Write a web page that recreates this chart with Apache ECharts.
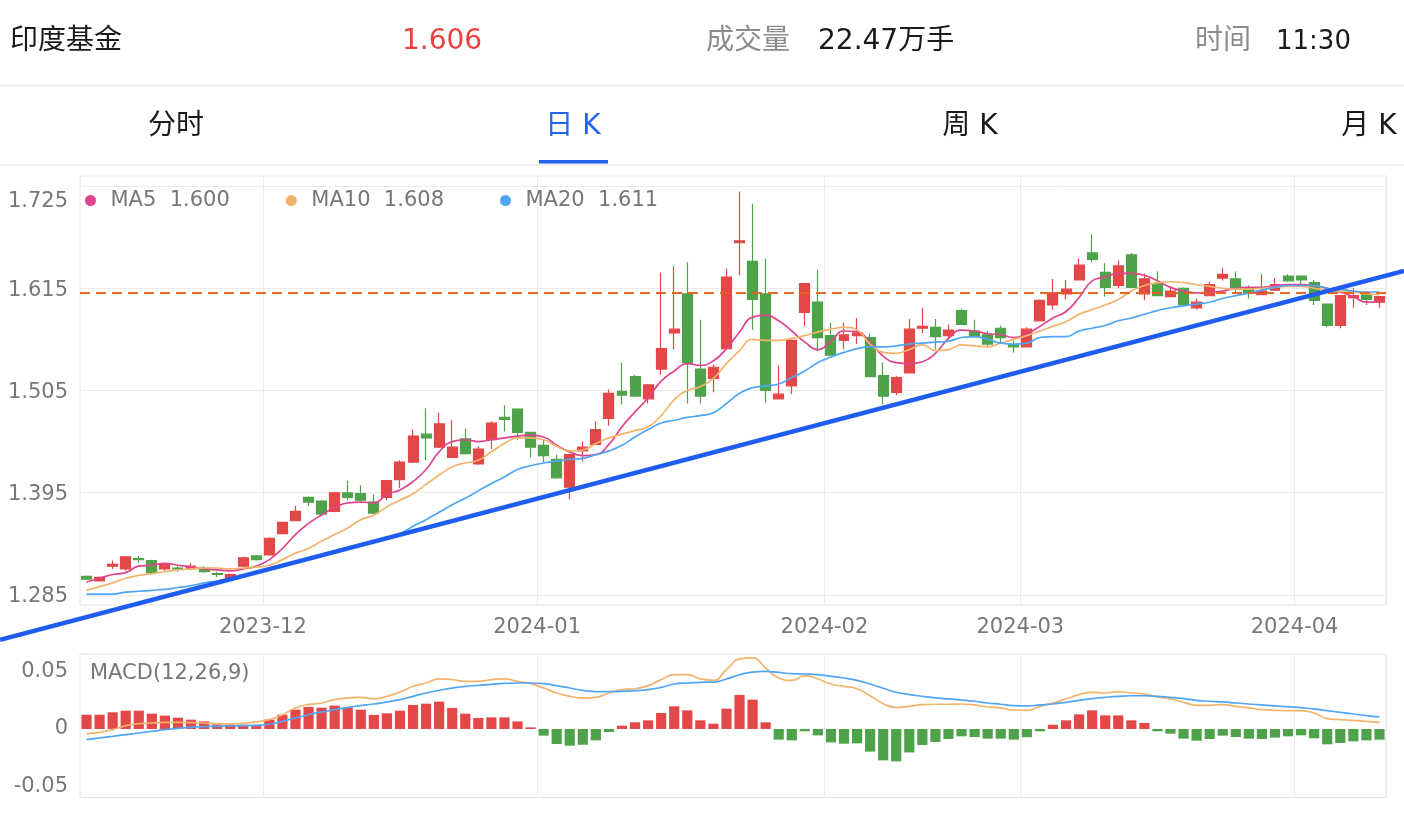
<!DOCTYPE html>
<html><head><meta charset="utf-8">
<script src="https://cdn.jsdelivr.net/npm/echarts@6/dist/echarts.min.js"></script>
<style>html,body{margin:0;padding:0;background:#fff}#c{width:1404px;height:818px}</style>
</head><body><div id="c"></div>
<script>
const dates = [
'2023-11-13','2023-11-14','2023-11-15','2023-11-16','2023-11-17','2023-11-20','2023-11-21','2023-11-22','2023-11-23','2023-11-24','2023-11-27','2023-11-28','2023-11-29','2023-11-30',
'2023-12-01','2023-12-04','2023-12-05','2023-12-06','2023-12-07','2023-12-08','2023-12-11','2023-12-12','2023-12-13','2023-12-14','2023-12-15','2023-12-18','2023-12-19','2023-12-20','2023-12-21','2023-12-22','2023-12-25','2023-12-26','2023-12-27','2023-12-28','2023-12-29',
'2024-01-02','2024-01-03','2024-01-04','2024-01-05','2024-01-08','2024-01-09','2024-01-10','2024-01-11','2024-01-12','2024-01-15','2024-01-16','2024-01-17','2024-01-18','2024-01-19','2024-01-22','2024-01-23','2024-01-24','2024-01-25','2024-01-26','2024-01-29','2024-01-30','2024-01-31',
'2024-02-01','2024-02-02','2024-02-05','2024-02-06','2024-02-07','2024-02-08','2024-02-19','2024-02-20','2024-02-21','2024-02-22','2024-02-23','2024-02-26','2024-02-27','2024-02-28','2024-02-29',
'2024-03-01','2024-03-04','2024-03-05','2024-03-06','2024-03-07','2024-03-08','2024-03-11','2024-03-12','2024-03-13','2024-03-14','2024-03-15','2024-03-18','2024-03-19','2024-03-20','2024-03-21','2024-03-22','2024-03-25','2024-03-26','2024-03-27','2024-03-28','2024-03-29',
'2024-04-01','2024-04-02','2024-04-03','2024-04-08','2024-04-09','2024-04-10','2024-04-11'];

const opens = [1.305,1.300,1.316,1.313,1.324,1.322,1.313,1.314,1.313,1.314,1.308,1.304,1.316,1.327,1.328,1.351,1.365,1.390,1.386,1.375,
1.395,1.394,1.385,1.390,1.409,1.428,1.458,1.444,1.433,1.453,1.426,1.452,1.476,1.485,1.460,1.446,1.431,1.401,1.440,1.447,
1.475,1.504,1.520,1.496,1.528,1.567,1.609,1.528,1.518,1.550,1.664,1.644,1.609,1.496,1.510,1.589,1.600,1.564,1.559,1.564,
1.562,1.521,1.503,1.524,1.572,1.573,1.564,1.591,1.569,1.565,1.572,1.554,1.552,1.580,1.597,1.609,1.624,1.653,1.632,1.618,
1.651,1.609,1.620,1.606,1.615,1.594,1.607,1.626,1.625,1.615,1.608,1.613,1.628,1.628,1.621,1.598,1.575,1.605,1.608,1.600];
const closes = [1.302,1.304,1.318,1.326,1.323,1.309,1.318,1.313,1.316,1.310,1.307,1.307,1.325,1.323,1.346,1.363,1.375,1.385,1.372,1.395,
1.390,1.387,1.373,1.408,1.428,1.456,1.454,1.469,1.444,1.437,1.442,1.470,1.474,1.460,1.444,1.435,1.411,1.436,1.444,1.463,
1.502,1.500,1.499,1.511,1.550,1.571,1.535,1.499,1.530,1.627,1.666,1.603,1.505,1.501,1.559,1.620,1.562,1.543,1.565,1.567,
1.520,1.499,1.519,1.571,1.574,1.563,1.570,1.576,1.563,1.555,1.562,1.552,1.571,1.602,1.610,1.614,1.640,1.646,1.616,1.639,
1.616,1.625,1.607,1.612,1.597,1.600,1.619,1.630,1.614,1.610,1.612,1.619,1.623,1.624,1.602,1.575,1.607,1.607,1.603,1.606];
const lows = [1.301,1.300,1.313,1.311,1.320,1.308,1.311,1.310,1.312,1.309,1.304,1.303,1.315,1.322,1.328,1.351,1.365,1.381,1.370,1.374,
1.387,1.386,1.372,1.387,1.400,1.427,1.430,1.443,1.432,1.436,1.425,1.442,1.461,1.452,1.433,1.428,1.410,1.388,1.429,1.446,
1.467,1.490,1.499,1.491,1.522,1.549,1.491,1.491,1.503,1.550,1.629,1.570,1.492,1.496,1.501,1.574,1.547,1.543,1.550,1.555,
1.520,1.490,1.500,1.524,1.567,1.549,1.560,1.576,1.562,1.552,1.556,1.546,1.552,1.580,1.592,1.603,1.624,1.643,1.606,1.615,
1.616,1.602,1.607,1.606,1.596,1.592,1.607,1.623,1.609,1.604,1.608,1.613,1.622,1.619,1.597,1.573,1.572,1.594,1.597,1.594];
const highs = [1.306,1.305,1.322,1.327,1.327,1.323,1.319,1.316,1.319,1.316,1.310,1.308,1.326,1.328,1.347,1.364,1.381,1.391,1.387,1.396,
1.408,1.403,1.393,1.409,1.430,1.463,1.486,1.481,1.473,1.464,1.445,1.472,1.489,1.486,1.461,1.452,1.436,1.437,1.450,1.472,
1.506,1.535,1.522,1.512,1.632,1.639,1.643,1.581,1.533,1.636,1.719,1.706,1.647,1.532,1.560,1.620,1.635,1.578,1.578,1.583,
1.566,1.535,1.521,1.582,1.594,1.582,1.576,1.593,1.581,1.569,1.575,1.559,1.573,1.603,1.625,1.624,1.647,1.673,1.642,1.645,
1.653,1.631,1.633,1.617,1.616,1.604,1.622,1.637,1.633,1.618,1.630,1.626,1.630,1.629,1.624,1.598,1.608,1.615,1.611,1.606];

const ma5 = [1.299,1.303,1.307,1.309,1.316,1.317,1.319,1.317,1.315,1.313,1.312,1.311,1.313,1.316,1.323,1.335,1.350,1.362,1.371,1.379,
1.384,1.385,1.384,1.393,1.398,1.407,1.420,1.439,1.450,1.452,1.450,1.452,1.454,1.456,1.457,1.455,1.446,1.439,1.435,1.436,
1.447,1.466,1.482,1.497,1.515,1.526,1.534,1.532,1.537,1.550,1.568,1.584,1.586,1.580,1.569,1.557,1.549,1.558,1.569,1.568,
1.557,1.542,1.535,1.534,1.536,1.545,1.561,1.570,1.569,1.566,1.565,1.562,1.566,1.574,1.583,1.590,1.605,1.623,1.627,1.631,
1.631,1.629,1.623,1.616,1.612,1.610,1.611,1.612,1.615,1.616,1.616,1.618,1.619,1.619,1.618,1.615,1.611,1.606,1.600,1.600];
const ma10 = [1.290,1.294,1.298,1.303,1.306,1.308,1.310,1.312,1.313,1.314,1.314,1.313,1.314,1.315,1.317,1.323,1.330,1.335,1.343,1.350,
1.357,1.366,1.371,1.380,1.387,1.394,1.404,1.414,1.423,1.427,1.430,1.439,1.448,1.454,1.454,1.452,1.445,1.440,1.441,1.448,
1.454,1.458,1.462,1.466,1.478,1.495,1.505,1.509,1.518,1.534,1.548,1.560,1.559,1.559,1.561,1.564,1.568,1.571,1.573,1.570,
1.555,1.546,1.545,1.549,1.554,1.548,1.549,1.554,1.553,1.552,1.556,1.560,1.564,1.569,1.574,1.579,1.587,1.592,1.597,1.603,
1.612,1.618,1.621,1.622,1.621,1.619,1.617,1.615,1.614,1.614,1.615,1.616,1.617,1.617,1.615,1.613,1.612,1.611,1.609,1.608];
const ma20 = [1.286,1.286,1.286,1.288,1.289,1.290,1.291,1.293,1.295,1.298,1.300,1.303,1.306,1.309,1.313,1.317,1.320,1.324,1.328,1.331,
1.335,1.339,1.342,1.346,1.351,1.359,1.366,1.374,1.382,1.389,1.397,1.405,1.412,1.420,1.424,1.427,1.429,1.431,1.432,1.436,
1.440,1.446,1.455,1.463,1.470,1.473,1.476,1.478,1.481,1.491,1.502,1.508,1.510,1.512,1.519,1.526,1.535,1.541,1.546,1.550,
1.552,1.552,1.553,1.555,1.556,1.557,1.558,1.562,1.563,1.560,1.556,1.555,1.556,1.562,1.563,1.563,1.569,1.572,1.575,1.580,
1.583,1.587,1.591,1.594,1.596,1.598,1.600,1.604,1.607,1.610,1.613,1.616,1.618,1.618,1.618,1.615,1.614,1.612,1.611,1.611];

const macdHist = [0.0124,0.0124,0.0145,0.0159,0.0159,0.0133,0.0116,0.0098,0.0081,0.0066,0.0040,0.0037,0.0037,0.0037,0.0081,0.0124,0.0168,0.0191,0.0185,0.0203,
0.0188,0.0168,0.0122,0.0136,0.0159,0.0209,0.0220,0.0238,0.0183,0.0133,0.0096,0.0101,0.0101,0.0066,0.0014,-0.0058,-0.0131,-0.0145,-0.0137,-0.0099,
-0.0026,0.0029,0.0058,0.0075,0.0139,0.0197,0.0162,0.0075,0.0046,0.0177,0.0296,0.0255,0.0058,-0.0093,-0.0099,-0.0020,-0.0056,-0.0117,-0.0128,-0.0125,
-0.0197,-0.0273,-0.0282,-0.0204,-0.0139,-0.0113,-0.0087,-0.0064,-0.0070,-0.0084,-0.0084,-0.0093,-0.0072,-0.0020,0.0037,0.0075,0.0127,0.0162,0.0118,0.0118,
0.0075,0.0052,-0.0020,-0.0041,-0.0084,-0.0102,-0.0087,-0.0058,-0.0070,-0.0084,-0.0087,-0.0075,-0.0064,-0.0055,-0.0081,-0.0134,-0.0122,-0.0108,-0.0099,-0.0093];
const dif = [-0.0041,-0.0030,-0.0006,0.0029,0.0046,0.0052,0.0058,0.0058,0.0055,0.0052,0.0046,0.0043,0.0049,0.0061,0.0081,0.0124,0.0183,0.0212,0.0226,0.0255,
0.0270,0.0275,0.0261,0.0284,0.0321,0.0371,0.0400,0.0435,0.0429,0.0414,0.0414,0.0429,0.0435,0.0414,0.0394,0.0356,0.0313,0.0284,0.0270,0.0275,
0.0313,0.0342,0.0350,0.0377,0.0429,0.0472,0.0472,0.0435,0.0423,0.0516,0.0609,0.0618,0.0530,0.0443,0.0423,0.0464,0.0435,0.0391,0.0371,0.0350,
0.0289,0.0220,0.0188,0.0197,0.0212,0.0215,0.0215,0.0217,0.0209,0.0191,0.0183,0.0165,0.0162,0.0197,0.0226,0.0261,0.0299,0.0319,0.0313,0.0325,
0.0313,0.0304,0.0278,0.0261,0.0232,0.0206,0.0206,0.0212,0.0197,0.0183,0.0168,0.0162,0.0159,0.0159,0.0139,0.0090,0.0081,0.0075,0.0066,0.0058];
const dea = [-0.0093,-0.0078,-0.0064,-0.0049,-0.0035,-0.0020,-0.0006,0.0006,0.0014,0.0020,0.0023,0.0026,0.0029,0.0032,0.0041,0.0066,0.0096,0.0124,0.0148,0.0168,
0.0188,0.0203,0.0217,0.0235,0.0255,0.0284,0.0313,0.0336,0.0356,0.0371,0.0379,0.0388,0.0397,0.0400,0.0400,0.0394,0.0377,0.0356,0.0336,0.0325,
0.0325,0.0327,0.0333,0.0342,0.0362,0.0391,0.0400,0.0406,0.0408,0.0435,0.0472,0.0495,0.0501,0.0493,0.0481,0.0478,0.0472,0.0458,0.0443,0.0423,
0.0391,0.0354,0.0319,0.0299,0.0284,0.0270,0.0261,0.0252,0.0241,0.0226,0.0215,0.0203,0.0200,0.0209,0.0217,0.0232,0.0249,0.0264,0.0275,0.0284,
0.0289,0.0289,0.0284,0.0275,0.0264,0.0249,0.0241,0.0235,0.0226,0.0217,0.0209,0.0200,0.0194,0.0185,0.0174,0.0159,0.0145,0.0130,0.0116,0.0104];

const priceTicks = [1.285, 1.395, 1.505, 1.615, 1.725];
const macdTicks = [-0.05, 0, 0.05];
const lastPrice = 1.606;
const trendAnchors = [[0, 1.2612], [99, 1.6266]];
const headerTexts = {name: '印度基金', price: '1.606', volLabel: '成交量', vol: '22.47万手', timeLabel: '时间', time: '11:30'};
const tabs = ['分时', '日 K', '周 K', '月 K'];

const FONT = "'DejaVu Sans', 'Noto Sans CJK SC', sans-serif";
const RED = '#e44747', GREEN = '#4ea24a';
const C5 = '#e0448c', C10 = '#f2b46c', C20 = '#4fa6f5';
const GRIDC = '#ececec';

const isMonthStart = (i) => i > 0 && dates[i].slice(0, 7) !== dates[i - 1].slice(0, 7);
const lastVals = {MA5: ma5[ma5.length - 1], MA10: ma10[ma10.length - 1], MA20: ma20[ma20.length - 1]};

const chart = echarts.init(document.getElementById('c'), null, {renderer: 'canvas'});

const tabX = [176, 573, 970, 1369];
const graphicEls = [
  {id: 'h1', type: 'text', x: 10, y: 42, style: {text: headerTexts.name, font: '28px ' + FONT, fill: '#1a1a1a', verticalAlign: 'middle'}},
  {id: 'h2', type: 'text', x: 402, y: 42, style: {text: headerTexts.price, font: '28px ' + FONT, fill: '#e8423e', verticalAlign: 'middle'}},
  {id: 'h3', type: 'text', x: 706, y: 42, style: {text: headerTexts.volLabel, font: '28px ' + FONT, fill: '#8c8c8c', verticalAlign: 'middle'}},
  {id: 'h4', type: 'text', x: 818, y: 42, style: {text: headerTexts.vol, font: '28px ' + FONT, fill: '#1a1a1a', verticalAlign: 'middle'}},
  {id: 'h5', type: 'text', x: 1195, y: 42, style: {text: headerTexts.timeLabel, font: '28px ' + FONT, fill: '#8c8c8c', verticalAlign: 'middle'}},
  {id: 'h6', type: 'text', x: 1276, y: 42, style: {text: headerTexts.time, font: '26px ' + FONT, fill: '#1a1a1a', verticalAlign: 'middle'}},
  {id: 'sep1', type: 'line', shape: {x1: 0, y1: 85.5, x2: 1404, y2: 85.5}, style: {stroke: '#ebebeb', lineWidth: 1.5}},
  {id: 'sep2', type: 'line', shape: {x1: 0, y1: 165, x2: 1404, y2: 165}, style: {stroke: '#efefef', lineWidth: 2}},
  {id: 'ul', type: 'rect', shape: {x: 539, y: 160, width: 69, height: 3.5}, style: {fill: '#1f63f0'}},
  {id: 'macdt', type: 'text', x: 90, y: 674, style: {text: 'MACD(12,26,9)', font: '21px ' + FONT, fill: '#777', verticalAlign: 'middle'}}
];
tabs.forEach((t, i) => graphicEls.push({id: 'tab' + i, type: 'text', x: tabX[i], y: 127,
  style: {text: t, font: '28px ' + FONT, fill: i === 1 ? '#1f63f0' : '#1a1a1a', align: 'center', verticalAlign: 'middle'}}));

const option = {
  animation: false,
  backgroundColor: '#fff',
  textStyle: {fontFamily: FONT},
  graphic: {elements: graphicEls},
  legend: {
    data: ['MA5', 'MA10', 'MA20'], icon: 'circle', itemWidth: 30, itemHeight: 11, itemGap: 56,
    left: 80, top: 185, selectedMode: false,
    formatter: (name) => name + '  ' + lastVals[name].toFixed(3),
    textStyle: {color: '#777', fontSize: 21, fontFamily: FONT}
  },
  grid: [
    {left: 80, right: 18, top: 176, height: 429, show: true, borderColor: '#e3e3e3', borderWidth: 1, backgroundColor: 'transparent'},
    {left: 80, right: 18, top: 654, height: 143.5, show: true, borderColor: '#e3e3e3', borderWidth: 1, backgroundColor: 'transparent'}
  ],
  xAxis: [
    {type: 'category', gridIndex: 0, data: dates, boundaryGap: true,
      axisLine: {show: false}, axisTick: {show: false},
      splitLine: {show: true, interval: (i) => isMonthStart(i), lineStyle: {color: GRIDC, width: 1}},
      axisLabel: {interval: (i) => isMonthStart(i), formatter: (v) => v.slice(0, 7), color: '#777', fontSize: 21, fontFamily: FONT, margin: 12, padding: [0, 13, 0, 0]}},
    {type: 'category', gridIndex: 1, data: dates, boundaryGap: true,
      axisLine: {show: false}, axisTick: {show: false}, axisLabel: {show: false},
      splitLine: {show: true, interval: (i) => isMonthStart(i), lineStyle: {color: GRIDC, width: 1}}}
  ],
  yAxis: [
    {type: 'value', gridIndex: 0, min: 1.2742, max: 1.7358, scale: true,
      axisLine: {show: false},
      axisTick: {show: false, customValues: priceTicks},
      splitLine: {show: true, lineStyle: {color: GRIDC, width: 1}},
      axisLabel: {customValues: priceTicks, margin: 12, color: '#777', fontSize: 21, fontFamily: FONT,
        formatter: (v) => (Math.abs(v - priceTicks[priceTicks.length - 1]) < 1e-6 ? '{t|' : '{n|') + v.toFixed(3) + '}',
        rich: {t: {padding: [32, 0, 0, 0], color: '#777', fontSize: 21, fontFamily: FONT}, n: {padding: [4, 0, 0, 0], color: '#777', fontSize: 21, fontFamily: FONT}}}},
    {type: 'value', gridIndex: 1, min: -0.0596, max: 0.0652,
      axisLine: {show: false},
      axisTick: {show: false, customValues: macdTicks},
      splitLine: {show: false},
      axisLabel: {customValues: macdTicks, margin: 12, color: '#777', fontSize: 21, fontFamily: FONT,
        formatter: (v) => (Math.abs(v) < 1e-9 ? '0' : v.toFixed(2))}}
  ],
  series: [
    {name: 'K', type: 'candlestick', xAxisIndex: 0, yAxisIndex: 0, barWidth: '80%',
      data: dates.map((d, i) => [opens[i], closes[i], lows[i], highs[i]]),
      itemStyle: {color: RED, color0: GREEN, borderColor: RED, borderColor0: GREEN, borderWidth: 1.2},
      markLine: {silent: true, symbol: 'none', label: {show: false},
        lineStyle: {color: '#e5621f', type: [10, 6], width: 2, opacity: 0.95}, data: [{yAxis: lastPrice}]}},
    {name: 'MA5', type: 'line', xAxisIndex: 0, yAxisIndex: 0, data: ma5, smooth: true, showSymbol: false, symbol: 'none',
      itemStyle: {color: C5}, lineStyle: {color: C5, width: 1.7}},
    {name: 'MA10', type: 'line', xAxisIndex: 0, yAxisIndex: 0, data: ma10, smooth: true, showSymbol: false, symbol: 'none',
      itemStyle: {color: C10}, lineStyle: {color: C10, width: 1.7}},
    {name: 'MA20', type: 'line', xAxisIndex: 0, yAxisIndex: 0, data: ma20, smooth: true, showSymbol: false, symbol: 'none',
      itemStyle: {color: C20}, lineStyle: {color: C20, width: 1.7}},
    {name: 'MACD', type: 'bar', xAxisIndex: 1, yAxisIndex: 1, data: macdHist, barWidth: '78%',
      itemStyle: {color: (p) => p.value >= 0 ? RED : GREEN}},
    {name: 'DIF', type: 'line', xAxisIndex: 1, yAxisIndex: 1, data: dif, smooth: true, showSymbol: false, symbol: 'none',
      lineStyle: {color: C10, width: 1.7}},
    {name: 'DEA', type: 'line', xAxisIndex: 1, yAxisIndex: 1, data: dea, smooth: true, showSymbol: false, symbol: 'none',
      lineStyle: {color: C20, width: 1.7}}
  ]
};
chart.setOption(option);

const pa = chart.convertToPixel({xAxisIndex: 0, yAxisIndex: 0}, trendAnchors[0]);
const pb = chart.convertToPixel({xAxisIndex: 0, yAxisIndex: 0}, trendAnchors[1]);
const slope = (pb[1] - pa[1]) / (pb[0] - pa[0]);
const W = chart.getWidth();
chart.setOption({graphic: {elements: [{id: 'trend', type: 'line', z: 100,
  shape: {x1: 0, y1: pa[1] - slope * pa[0], x2: W, y2: pa[1] + slope * (W - pa[0])},
  style: {stroke: '#1f5cf0', lineWidth: 4.5, lineCap: 'butt'}}]}});
</script>
</body></html>
